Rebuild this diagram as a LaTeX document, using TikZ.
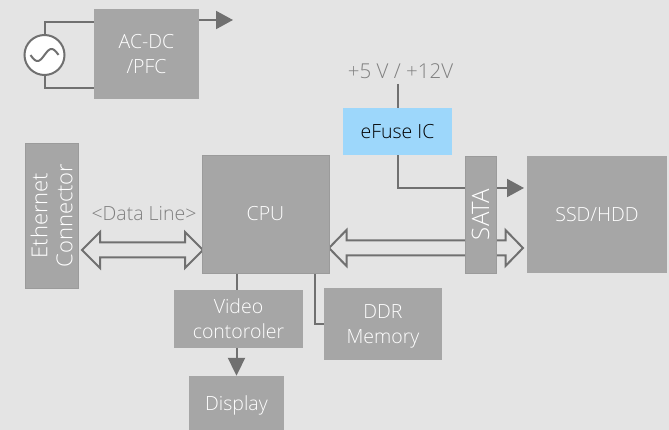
\documentclass[tikz,border=0pt]{standalone}
\usepackage{fontspec}
\setmainfont{Open Sans Light}
\usepackage{tikz}
\usetikzlibrary{backgrounds, calc, arrows.meta}
\definecolor{page}{RGB}{228, 228, 228}
\definecolor{block}{RGB}{166, 166, 166}
\definecolor{edge}{RGB}{155, 155, 155}
\definecolor{wire}{RGB}{112, 112, 112}
\definecolor{ink}{RGB}{127, 127, 127}
\definecolor{fuse}{RGB}{157, 215, 251}
\tikzset{
  block/.style={fill=block, text=white, inner sep=0, align=center, font=\fontsize{19.5}{25}\selectfont},
  framed/.style={block, draw=edge, line width=0.8},
  wire/.style={draw=wire, line width=2},
  feed/.style={wire, -{Triangle[length=17, width=18]}},
  label/.style={text=ink, inner sep=0, font=\fontsize{19.5}{25}\selectfont}
}

\begin{document}
\begin{tikzpicture}[x=1pt, y=-1pt]
  \useasboundingbox (0, 0) rectangle (669, 430);

  \node[block, minimum width=105, minimum height=90] (acdc) at (146.5, 54) {AC-DC\\/PFC};
  \node[circle, draw=wire, fill=white, line width=2, minimum size=40, inner sep=0] (source) at (44.5, 55) {};
  \draw[wire] plot[domain=-14:14, samples=40, smooth] ({44.5 + \x}, {55 - 6 * sin(\x * 12.8)});
  \coordinate (output) at (233, 20);

  \node[framed, rotate=90, minimum width=145, minimum height=53, font=\fontsize{22}{25}\selectfont] (ethernet) at (51.5, 215.5) {Ethernet\\Connector};
  \node[framed, minimum width=127, minimum height=118] (cpu) at (265.5, 214) {CPU};
  \node[framed, rotate=90, minimum width=117, minimum height=31, font=\fontsize{24}{25}\selectfont] (sata) at (480.5, 214.5) {SATA};
  \node[block, minimum width=140, minimum height=117] (ssd) at (597, 214.5) {SSD/HDD};
  \node[block, fill=fuse, text=black, minimum width=109, minimum height=47] (efuse) at (397.5, 131.5) {eFuse IC};
  \node[block, minimum width=129, minimum height=58] (video) at (238.5, 319) {Video\\contoroler};
  \node[block, text depth=0, minimum width=118, minimum height=72] (ddr) at (383, 324) {DDR\\Memory};
  \node[block, text depth=0, minimum width=95, minimum height=54] (display) at (236.5, 403) {Display};

  \node[label, font=\fontsize{20.5}{25}\selectfont] (rail) at (400.5, 71) {+5 V / +12V};
  \node[label] (data) at (144, 214) {<Data Line>};
  \coordinate (railend) at (398, 84);

  \coordinate (dataleft) at (82, 250);
  \coordinate (dataright) at (203, 250);
  \coordinate (sataleft) at (329, 248);
  \coordinate (sataright) at (523, 248);

  \begin{scope}[on background layer]
    \fill[page] (0, 0) rectangle (669, 430);

    \draw[wire] (source.north) |- (acdc.west |- 0, 22);
    \draw[wire] (source.south) |- (acdc.west |- 0, 88);
    \draw[feed] (acdc.east |- output) -- (output);

    \draw[wire] (railend) -- (railend |- efuse.north);
    \draw[wire] (railend |- efuse.south) |- (sata.south |- 0, 188);
    \draw[feed] (sata.north |- 0, 188) -- (524, 188);

    \draw[wire] (237, 273) -- (237, 290);
    \draw[wire] (315, 273) |- (ddr.west);
    \draw[wire, -{Triangle[length=18, width=17]}] (video.south -| display) -- (display.north);

    \foreach \from/\to/\head/\half in {dataleft/dataright/18/7.5, sataleft/sataright/17.5/7.5} {
      \draw[wire, fill=page, line join=miter]
        (\from) -- ($(\from) + (\head, -18)$) -- ($(\from) + (\head, -\half)$)
        -- ($(\to) + (-\head, -\half)$) -- ($(\to) + (-\head, -18)$) -- (\to)
        -- ($(\to) + (-\head, 18)$) -- ($(\to) + (-\head, \half)$)
        -- ($(\from) + (\head, \half)$) -- ($(\from) + (\head, 18)$) -- cycle;
    }
  \end{scope}
\end{tikzpicture}
\end{document}
